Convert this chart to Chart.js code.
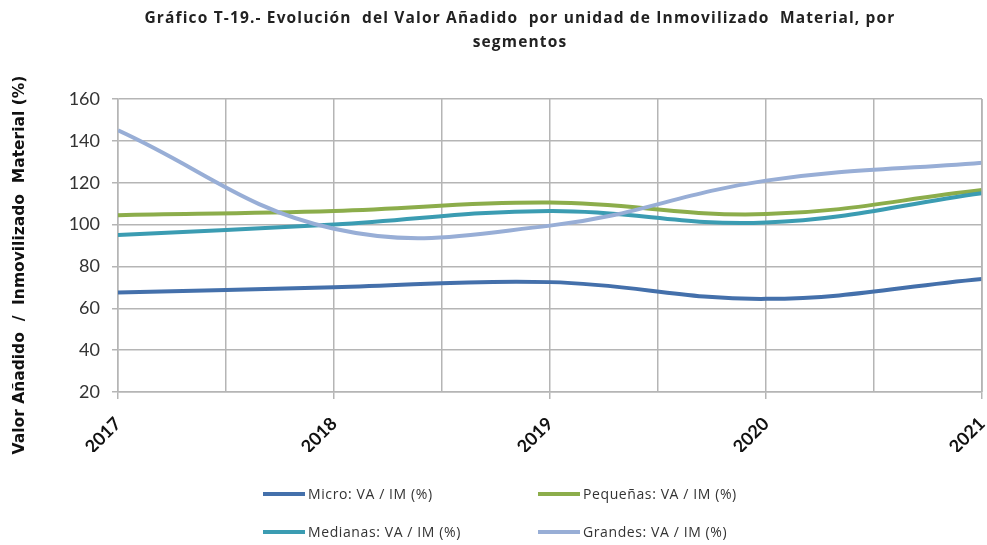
<!DOCTYPE html>
<html>
<head>
<meta charset="utf-8">
<script src="https://cdn.jsdelivr.net/npm/chart.js@4.4.1/dist/chart.umd.min.js"></script>
<style>
  body { margin: 0; background: #fff; }
  #wrap { position: relative; width: 987px; height: 545px; overflow: hidden; }
  #title {
    position: absolute; left: 0; top: 5px; width: 1040px;
    text-align: center; font: bold 15.5px "Open Sans", sans-serif; letter-spacing: 1.15px;
    color: #222; line-height: 24px;
  }
  .leg { position: absolute; font: 14px "Open Sans", sans-serif; letter-spacing: 0.6px; color: #333; display: flex; align-items: center; }
  .leg span.sw { display: inline-block; width: 42px; height: 4px; margin-right: 3px; }
</style>
</head>
<body>
<div id="wrap">
  <canvas id="chart" width="987" height="545"></canvas>
  <div id="title">Gráfico T-19.- Evolución&nbsp; del Valor Añadido&nbsp; por unidad de Inmovilizado&nbsp; Material, por<br>segmentos</div>
  <div id="legend"></div>
</div>
<script>
// data
const years = [2017, 2018, 2019, 2020, 2021];
const micro = [67.5, 70, 72.5, 64.5, 74];
const pequenas = [104.5, 106.5, 110.5, 105, 116.5];
const medianas = [95, 100, 106.5, 101, 115];
const grandes = [145, 98, 99.5, 121, 129.5];

const seriesNames = ["Micro: VA / IM (%)", "Pequeñas: VA / IM (%)", "Medianas: VA / IM (%)", "Grandes: VA / IM (%)"];
const seriesColors = ["#4470ab", "#8cad4b", "#3b9cb2", "#98aed6"];
const seriesValues = [micro, pequenas, medianas, grandes];

const yTitle = "Valor Añadido  /  Inmovilizado  Material (%)";

// legend slots (2 x 2, Excel style)
const legendPos = [[263, 484], [538, 484], [263, 522], [538, 522]];

const gridColor = "#b5b5b5";

const datasets = seriesValues.map((vals, i) => ({
  label: seriesNames[i],
  data: vals.map((v, j) => ({ x: years[j], y: v })),
  borderColor: seriesColors[i],
  backgroundColor: seriesColors[i],
  borderWidth: 4,
  pointRadius: 0,
  tension: 0.4,
  fill: false
}));

// Excel draws the first series at the bottom
datasets.forEach((d, i) => { d.order = datasets.length - i; });

const legendEl = document.getElementById("legend");
seriesNames.forEach((name, i) => {
  const div = document.createElement("div");
  div.className = "leg";
  div.style.left = legendPos[i][0] + "px";
  div.style.top = legendPos[i][1] + "px";
  div.innerHTML = '<span class="sw" style="background:' + seriesColors[i] + '"></span>' + name;
  legendEl.appendChild(div);
});

new Chart(document.getElementById("chart"), {
  type: "line",
  data: { datasets: datasets },
  options: {
    responsive: false,
    animation: false,
    layout: { padding: { left: 0, right: 5, top: 99, bottom: 93 } },
    plugins: {
      legend: { display: false },
      title: { display: false },
      tooltip: { enabled: false }
    },
    scales: {
      x: {
        type: "linear",
        min: 2017,
        max: 2021,
        afterFit: (s) => { s.height = 60; s.paddingLeft = 0; s.paddingRight = 0; },
        ticks: {
          stepSize: 0.5,
          autoSkip: false,
          minRotation: 45,
          maxRotation: 45,
          padding: 14,
          color: "#111",
          font: { family: "Lato", size: 18, weight: "bold" },
          callback: (v) => Number.isInteger(v) ? String(v) : ""
        },
        grid: {
          color: gridColor,
          lineWidth: 1.5,
          tickLength: 7,
          tickColor: (ctx) => (ctx.tick && Number.isInteger(ctx.tick.value)) ? gridColor : "rgba(0,0,0,0)"
        },
        border: { color: gridColor, width: 1.5 }
      },
      y: {
        min: 20,
        max: 160,
        afterFit: (s) => { s.width = 118; },
        ticks: {
          stepSize: 20,
          padding: 12,
          color: "#333",
          font: { family: "Lato", size: 18 }
        },
        grid: { color: gridColor, lineWidth: 1.5, tickLength: 6 },
        border: { color: gridColor, width: 1.5 }
      }
    }
  },
  plugins: [{
    id: "frameAndTitle",
    afterDraw(chart) {
      const a = chart.chartArea, c = chart.ctx;
      c.save();
      // right edge of plot area
      c.strokeStyle = gridColor;
      c.lineWidth = 1.5;
      c.beginPath();
      c.moveTo(a.right, a.top);
      c.lineTo(a.right, a.bottom);
      c.stroke();
      // y axis title, sits lower than the plot centre as in the original
      c.translate(20, 265);
      c.rotate(-Math.PI / 2);
      c.font = "bold 15.5px 'DejaVu Sans'";
      c.fillStyle = "#111";
      c.textAlign = "center";
      c.textBaseline = "middle";
      c.fillText(yTitle, 0, 0);
      c.restore();
    }
  }]
});
</script>
</body>
</html>
